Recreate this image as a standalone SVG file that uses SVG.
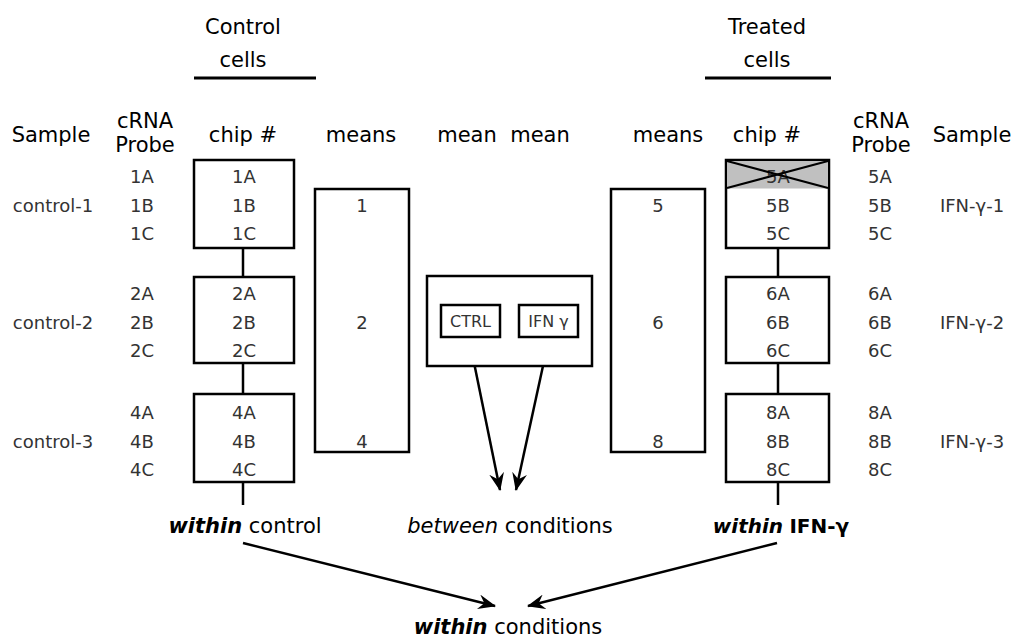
<svg xmlns="http://www.w3.org/2000/svg" width="1013" height="640" viewBox="0 0 1013 640">
<defs>
<style>
.h{font-family:"DejaVu Sans",Verdana,sans-serif;font-size:21px;fill:#000;text-anchor:middle}
.t{font-family:"DejaVu Sans",Verdana,sans-serif;font-size:18px;fill:#333;text-anchor:middle}
.b{fill:#fff;stroke:#000;stroke-width:2.5}
.ln{stroke:#000;stroke-width:2.5;fill:none}
.ar{stroke:#000;stroke-width:2.5;fill:none;marker-end:url(#ah)}
</style>
<marker id="ah" viewBox="0 0 18 15" refX="17" refY="7.5" markerWidth="18" markerHeight="15" markerUnits="userSpaceOnUse" orient="auto">
<path d="M0,0 L18,7.5 L0,15 L6,7.5 Z" fill="#000"/>
</marker>
</defs>
<rect width="1013" height="640" fill="#fff"/>
<g id="headers">
<text class="h" x="243" y="34">Control</text>
<text class="h" x="243" y="67">cells</text>
<line class="ln" x1="194" y1="78" x2="316" y2="78" style="stroke-width:3"/>
<text class="h" x="767" y="34">Treated</text>
<text class="h" x="767" y="67">cells</text>
<line class="ln" x1="705" y1="78" x2="831" y2="78" style="stroke-width:3"/>
<text class="h" x="51" y="142">Sample</text>
<text class="h" x="145" y="128">cRNA</text>
<text class="h" x="145" y="152">Probe</text>
<text class="h" x="243" y="142">chip #</text>
<text class="h" x="361" y="142">means</text>
<text class="h" x="467" y="142">mean</text>
<text class="h" x="540" y="142">mean</text>
<text class="h" x="668" y="142">means</text>
<text class="h" x="767" y="142">chip #</text>
<text class="h" x="881" y="128">cRNA</text>
<text class="h" x="881" y="152">Probe</text>
<text class="h" x="972" y="142">Sample</text>
</g>
<g id="connectors">
<line class="ln" x1="243" y1="248" x2="243" y2="277"/>
<line class="ln" x1="243" y1="363" x2="243" y2="394"/>
<line class="ln" x1="243" y1="482" x2="243" y2="505"/>
<line class="ln" x1="778" y1="248" x2="778" y2="277"/>
<line class="ln" x1="778" y1="363" x2="778" y2="394"/>
<line class="ln" x1="778" y1="482" x2="778" y2="505"/>
<line class="ar" x1="470" y1="343" x2="500" y2="490"/>
<line class="ar" x1="548" y1="343" x2="516" y2="490"/>
<line class="ar" x1="243" y1="543" x2="495" y2="606"/>
<line class="ar" x1="777" y1="543" x2="528" y2="606"/>
</g>
<g id="left-samples">
<text class="t" x="53" y="212">control-1</text>
<text class="t" x="53" y="329">control-2</text>
<text class="t" x="53" y="448">control-3</text>
<text class="t" x="142" y="183">1A</text><text class="t" x="142" y="212">1B</text><text class="t" x="142" y="240">1C</text>
<text class="t" x="142" y="300">2A</text><text class="t" x="142" y="329">2B</text><text class="t" x="142" y="357">2C</text>
<text class="t" x="142" y="419">4A</text><text class="t" x="142" y="448">4B</text><text class="t" x="142" y="476">4C</text>
</g>
<g id="chip-control-1">
<rect class="b" x="194" y="160" width="100" height="88"/>
<text class="t" x="244" y="183">1A</text><text class="t" x="244" y="212">1B</text><text class="t" x="244" y="240">1C</text>
</g>
<g id="chip-control-2">
<rect class="b" x="194" y="277" width="100" height="86"/>
<text class="t" x="244" y="300">2A</text><text class="t" x="244" y="329">2B</text><text class="t" x="244" y="357">2C</text>
</g>
<g id="chip-control-3">
<rect class="b" x="194" y="394" width="100" height="88"/>
<text class="t" x="244" y="419">4A</text><text class="t" x="244" y="448">4B</text><text class="t" x="244" y="476">4C</text>
</g>
<g id="means-control">
<rect class="b" x="315" y="189" width="94" height="263"/>
<text class="t" x="362" y="212">1</text><text class="t" x="362" y="329">2</text><text class="t" x="362" y="448">4</text>
</g>
<g id="mean-box">
<rect class="b" x="427" y="276" width="165" height="90"/>
<rect class="b" x="441" y="305" width="59" height="32"/>
<text class="t" x="470.5" y="327" style="font-size:16px">CTRL</text>
<rect class="b" x="519" y="305" width="59" height="32"/>
<text class="t" x="548.5" y="327" style="font-size:16px">IFN γ</text>
</g>
<g id="means-ifn">
<rect class="b" x="611" y="189" width="94" height="263"/>
<text class="t" x="658" y="212">5</text><text class="t" x="658" y="329">6</text><text class="t" x="658" y="448">8</text>
</g>
<g id="chip-ifn-1">
<rect class="b" x="726" y="160" width="103" height="88"/>
<rect x="727.5" y="161.5" width="100" height="27" fill="#c0c0c0"/>
<text class="t" x="778" y="183">5A</text>
<line x1="727" y1="161" x2="828" y2="188" stroke="#000" stroke-width="2"/>
<line x1="727" y1="188" x2="828" y2="161" stroke="#000" stroke-width="2"/>
<text class="t" x="778" y="212">5B</text><text class="t" x="778" y="240">5C</text>
</g>
<g id="chip-ifn-2">
<rect class="b" x="726" y="277" width="103" height="86"/>
<text class="t" x="778" y="300">6A</text><text class="t" x="778" y="329">6B</text><text class="t" x="778" y="357">6C</text>
</g>
<g id="chip-ifn-3">
<rect class="b" x="726" y="394" width="103" height="88"/>
<text class="t" x="778" y="419">8A</text><text class="t" x="778" y="448">8B</text><text class="t" x="778" y="476">8C</text>
</g>
<g id="right-samples">
<text class="t" x="880" y="183">5A</text><text class="t" x="880" y="212">5B</text><text class="t" x="880" y="240">5C</text>
<text class="t" x="880" y="300">6A</text><text class="t" x="880" y="329">6B</text><text class="t" x="880" y="357">6C</text>
<text class="t" x="880" y="419">8A</text><text class="t" x="880" y="448">8B</text><text class="t" x="880" y="476">8C</text>
<text class="t" x="972" y="212">IFN-γ-1</text>
<text class="t" x="972" y="329">IFN-γ-2</text>
<text class="t" x="972" y="448">IFN-γ-3</text>
</g>
<g id="bottom-labels">
<text class="h" x="245" y="533"><tspan font-style="italic" font-weight="bold">within</tspan> control</text>
<text class="h" x="510" y="533"><tspan font-style="italic">between</tspan> conditions</text>
<text class="h" x="781" y="533" style="font-size:20px"><tspan font-style="italic" font-weight="bold">within</tspan> <tspan font-weight="bold">IFN-γ</tspan></text>
<text class="h" x="508" y="634"><tspan font-style="italic" font-weight="bold">within</tspan> conditions</text>
</g>
</svg>
